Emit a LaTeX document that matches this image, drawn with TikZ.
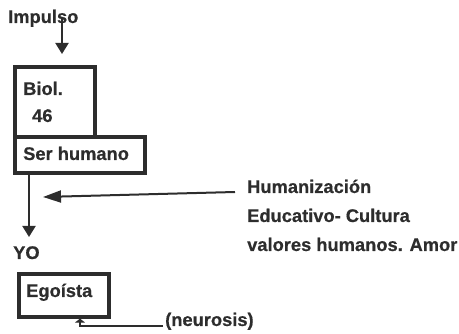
\documentclass[tikz,border=0pt]{standalone}
\usepackage{fontspec}
\setmainfont{Liberation Sans}
\newfontfamily\heavyfont{Liberation Sans Bold}[FakeBold=0.6]
\usetikzlibrary{arrows.meta}
\definecolor{ink}{RGB}{45,45,45}
\begin{document}
\begin{tikzpicture}[x=1pt,y=-1pt,
  txt/.style={inner sep=0pt, anchor=base west, text=ink, font=\fontsize{18.3}{22}\heavyfont},
  box/.style={draw=ink, line width=3.2pt, inner sep=0pt},
  conn/.style={draw=ink, line width=2pt},
  bighead/.style={-{Triangle[length=11pt,width=13pt]}},
  sidehead/.style={-{Triangle[length=18pt,width=12pt]}},
  smallhead/.style={-{Triangle[length=4pt,width=10pt]}}]
\useasboundingbox (0,0) rectangle (459,334);
% boxes
\node[box, minimum width=80pt, minimum height=70pt] (biol) at (55,102) {};
\node[box, minimum width=130pt, minimum height=36pt] (sh) at (80,155) {};
\node[box, minimum width=90pt, minimum height=43pt] (ego) at (64,295.5) {};
% texts
\node[txt] (imp) at (8,23) {Impulso};
\node[txt] (biolt) at (23,95) {Biol.};
\node[txt] (n46) at (32,122) {46};
\node[txt] (sht) at (23,160) {Ser humano};
\node[txt] (hum) at (247,193) {Humanización};
\node[txt] (edu) at (247,222) {Educativo- Cultura};
\node[txt] (val) at (247,251) {valores humanos. Amor};
\node[txt] (yo) at (13,259) {YO};
\node[txt] (egot) at (26,297) {Egoísta};
\node[txt] (neu) at (165,326) {(neurosis)};
% connector points
\coordinate (impS) at (62,17);
\coordinate (impT) at (62,54);
\coordinate (shS) at (29,173);
\coordinate (yoN) at (29,237);
\coordinate (humW) at (235,192);
\coordinate (midT) at (43,197);
\coordinate (neuW) at (163,326);
\coordinate (corner) at (80,326);
% connectors
\draw[conn, bighead] (impS) -- (impT);
\draw[conn, bighead] (shS) -- (yoN);
\draw[conn, sidehead] (humW) -- (midT);
\draw[conn, smallhead] (neuW) -- (corner) -- (corner |- ego.south);
\end{tikzpicture}
\end{document}
